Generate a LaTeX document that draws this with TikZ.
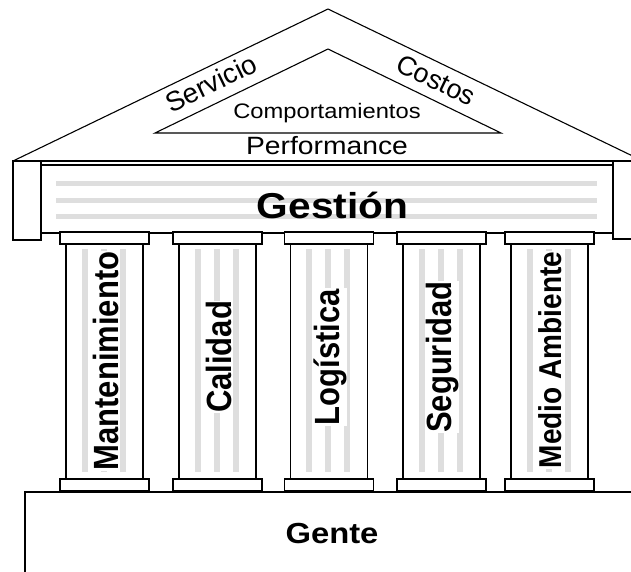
\documentclass[tikz,border=0pt]{standalone}
\usepackage{fontspec}
\setmainfont{Liberation Sans}
\newcommand{\fsz}[1]{\fontsize{#1}{#1}\selectfont}
\begin{document}
\begin{tikzpicture}[x=1pt,y=-1pt,line width=1.1pt,
    stripe/.style={fill=black!13,draw=none},
    lbl/.style={inner sep=0pt,xscale=1.13},
    slope/.style={inner sep=0pt},
    pillar/.style={lbl,rotate=90,fill=white,inner sep=0.5pt,font=\bfseries\fsz{31}}]
  \useasboundingbox (0,0) rectangle (631,571);
  \clip (0,0) rectangle (631,571);
  % roof
  \draw (13,161) -- (328,9) -- (643,161);
  \draw (155,133) -- (328,49) -- (501,133) -- cycle;
  \node[slope,rotate=25.8,font=\fsz{27.5}] (servicio) at (211,83) {Servicio};
  \node[slope,rotate=-25.8,font=\fsz{27}] (costos) at (436,80) {Costos};
  \node[lbl,anchor=base,font=\fsz{21}] (comp) at (327,118) {Comportamientos};
  \node[lbl,anchor=base,font=\fsz{25}] (perf) at (327,154) {Performance};
  % entablature
  \draw (13,161) rectangle (41,240);
  \draw (613,161) rectangle (650,239);
  \draw (41,161) rectangle (613,233);
  \draw (41,165) -- (613,165);
  \foreach \y in {183,200,216}
    \fill[stripe] (56,\y-2.5) rectangle (597,\y+2.5);
  \node[lbl,anchor=base,font=\bfseries\fsz{36}] (gestion) at (332.5,218) {Gestión};
  % base
  \draw (25,492) rectangle (660,600);
  \node[lbl,anchor=base,font=\bfseries\fsz{29}] (gente) at (332,543) {Gente};
  % columns
  \foreach \cx/\cy/\txt/\fs [count=\i] in {104.5/361/Mantenimiento/31,217.5/357/Calidad/31,
      329/357/Logística/31,441.5/357/Seguridad/31,549.5/360/Medio Ambiente/28}{
    \draw[fill=white] (\cx-44.5,232) rectangle (\cx+44.5,244);
    \draw[fill=white] (\cx-38.5,244) rectangle (\cx+38.5,479);
    \foreach \dx in {-20,-1,18}
      \fill[stripe] (\cx+\dx-3,249) rectangle (\cx+\dx+3,472);
    \draw[fill=white] (\cx-44.5,479) rectangle (\cx+44.5,491);
    \node[pillar,font=\bfseries\fsz{\fs}] (col\i) at (\cx+1,\cy) {\txt};
  }
\end{tikzpicture}
\end{document}
